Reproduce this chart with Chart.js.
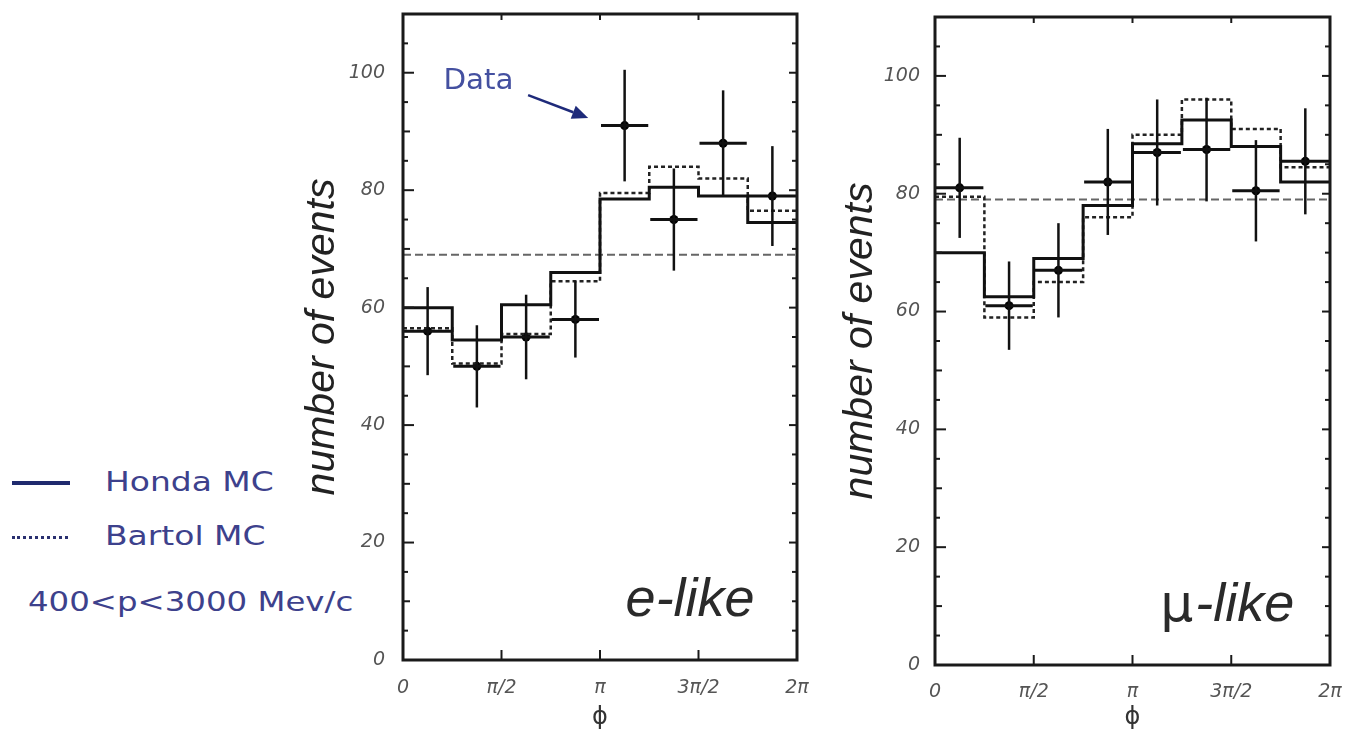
<!DOCTYPE html>
<html>
<head>
<meta charset="utf-8">
<script src="https://cdn.jsdelivr.net/npm/chart.js@4.4.0/dist/chart.umd.min.js"></script>
<style>
html,body{margin:0;padding:0;background:#fff;width:1355px;height:752px;overflow:hidden;}
body{position:relative;font-family:"DejaVu Sans",sans-serif;}
canvas{position:absolute;top:0;}
#c1{left:290px;}
#c2{left:830px;}
.leg{position:absolute;color:#3d418c;font-size:27px;line-height:30px;transform-origin:left center;transform:scaleX(1.22);white-space:nowrap;}
.lsolid{position:absolute;left:12px;top:481px;width:58px;height:4px;background:#1f2a6e;}
.ldot{position:absolute;left:12px;top:536px;width:56px;height:0;border-top:3px dotted #2a3070;}
</style>
</head>
<body>
<div class="lsolid"></div>
<div class="leg" style="left:105px;top:467px;">Honda MC</div>
<div class="ldot"></div>
<div class="leg" style="left:105px;top:521px;">Bartol MC</div>
<div class="leg" style="left:28px;top:587px;transform:scaleX(1.2);">400&lt;p&lt;3000 Mev/c</div>
<canvas id="c1" width="520" height="752"></canvas>
<canvas id="c2" width="525" height="752"></canvas>
<script>
// ---- data (x in units of pi) ----
const phiBinEdges = [0, 0.25, 0.5, 0.75, 1, 1.25, 1.5, 1.75, 2];
const xTickValues = [0, 0.5, 1, 1.5, 2];
const xTickLabels = ['0', 'π/2', 'π', '3π/2', '2π'];
const yTickValues = [0, 20, 40, 60, 80, 100];

const eHonda  = [60, 54.5, 60.5, 66, 78.5, 80.5, 79, 74.5];
const eBartol = [56.5, 50.5, 55.5, 64.5, 79.5, 84, 82, 76.5];
const eData   = [56, 50, 55, 58, 91, 75, 88, 79];
const eErr    = [7.5, 7, 7.2, 6.5, 9.5, 8.7, 9, 8.5];
const eFlat   = 69;

const muHonda  = [70, 62.5, 69, 78, 88.5, 92.5, 88, 82];
const muBartol = [79.5, 59, 65, 76, 90, 96, 91, 84.5];
const muData   = [81, 61, 67, 82, 87, 87.5, 80.5, 85.5];
const muErr    = [8.5, 7.5, 8, 9, 9, 8.8, 8.6, 9];
const muFlat   = 79;

Chart.defaults.animation = false;

function histPoints(vals) {
  const pts = vals.map((v, i) => ({x: phiBinEdges[i], y: v}));
  pts.push({x: phiBinEdges[phiBinEdges.length - 1], y: vals[vals.length - 1]});
  return pts;
}
function centerPoints(vals) {
  return vals.map((v, i) => ({x: (phiBinEdges[i] + phiBinEdges[i + 1]) / 2, y: v}));
}
function noPad(s) { s.paddingLeft = 0; s.paddingRight = 0; s.paddingTop = 0; s.paddingBottom = 0; }

const decor = {
  id: 'decor',
  afterDatasetsDraw(chart) {
    const o = chart.options.plugins.decor;
    const ctx = chart.ctx;
    const xs = chart.scales.x, ys = chart.scales.y;
    const a = chart.chartArea;
    ctx.save();
    // error bars
    ctx.strokeStyle = '#111';
    o.data.forEach((v, i) => {
      const x0 = xs.getPixelForValue(phiBinEdges[i]);
      const x1 = xs.getPixelForValue(phiBinEdges[i + 1]);
      const xc = (x0 + x1) / 2;
      const y = ys.getPixelForValue(v);
      ctx.lineWidth = 3;
      ctx.beginPath(); ctx.moveTo(x0 + 1, y); ctx.lineTo(x1 - 1, y); ctx.stroke();
      ctx.lineWidth = 2.5;
      ctx.beginPath();
      ctx.moveTo(xc, ys.getPixelForValue(v + o.err[i]));
      ctx.lineTo(xc, ys.getPixelForValue(v - o.err[i]));
      ctx.stroke();
    });
    // frame
    ctx.strokeStyle = '#1a1a1a';
    ctx.lineWidth = 3;
    ctx.strokeRect(a.left, a.top, a.right - a.left, a.bottom - a.top);
    // inward ticks
    ctx.lineWidth = 2;
    for (let v = 0; v <= 110; v += 5) {
      const y = ys.getPixelForValue(v);
      const l = v % 20 === 0 ? 11 : (v % 10 === 0 ? 7 : 5);
      ctx.beginPath(); ctx.moveTo(a.left, y); ctx.lineTo(a.left + l, y); ctx.stroke();
      const r = v % 20 === 0 ? 8 : 5;
      ctx.beginPath(); ctx.moveTo(a.right, y); ctx.lineTo(a.right - r, y); ctx.stroke();
    }
    xTickValues.forEach(v => {
      const x = xs.getPixelForValue(v);
      ctx.beginPath(); ctx.moveTo(x, a.bottom); ctx.lineTo(x, a.bottom - 10); ctx.stroke();
      ctx.beginPath(); ctx.moveTo(x, a.top); ctx.lineTo(x, a.top + 6); ctx.stroke();
    });
    // labels
    ctx.fillStyle = '#2a2a2a';
    ctx.textBaseline = 'alphabetic';
    ctx.textAlign = 'left';
    const lx = xs.getPixelForValue(o.labelX), ly = ys.getPixelForValue(o.labelY);
    if (o.mu) {
      ctx.font = '52px "DejaVu Sans"';
      ctx.fillText('μ', lx, ly);
      const w = ctx.measureText('μ').width;
      ctx.font = 'italic 54px "Liberation Sans"';
      ctx.fillText('-like', lx + w + 2, ly);
    } else {
      ctx.font = 'italic 54px "Liberation Sans"';
      ctx.fillText(o.label, lx, ly);
    }
    if (o.dataNote) {
      const n = o.dataNote;
      ctx.fillStyle = '#4450a0';
      ctx.font = '28px "DejaVu Sans"';
      ctx.textBaseline = 'middle';
      ctx.save();
      const tx = xs.getPixelForValue(n.tx), ty = ys.getPixelForValue(n.ty);
      ctx.translate(tx, ty); ctx.scale(1.05, 1);
      ctx.fillText(n.text, 0, 0);
      ctx.restore();
      const ax0 = xs.getPixelForValue(n.ax0), ay0 = ys.getPixelForValue(n.ay0);
      const ax1 = xs.getPixelForValue(n.ax1), ay1 = ys.getPixelForValue(n.ay1);
      ctx.strokeStyle = '#1e2a7a'; ctx.fillStyle = '#1e2a7a';
      ctx.lineWidth = 2.5;
      const ang = Math.atan2(ay1 - ay0, ax1 - ax0);
      const bx = ax1 - 16 * Math.cos(ang), by = ay1 - 16 * Math.sin(ang);
      ctx.beginPath(); ctx.moveTo(ax0, ay0); ctx.lineTo(bx, by); ctx.stroke();
      ctx.beginPath();
      ctx.moveTo(ax1, ay1);
      ctx.lineTo(bx + 7 * Math.sin(ang), by - 7 * Math.cos(ang));
      ctx.lineTo(bx - 7 * Math.sin(ang), by + 7 * Math.cos(ang));
      ctx.closePath(); ctx.fill();
    }
    ctx.restore();
  }
};

function makeChart(id, honda, bartol, data, err, flat, opts) {
  return new Chart(document.getElementById(id), {
    type: 'line',
    data: {
      datasets: [
        {label: 'Honda MC', data: histPoints(honda), stepped: true, borderColor: '#111', borderWidth: 3, pointRadius: 0, fill: false},
        {label: 'Bartol MC', data: histPoints(bartol), stepped: true, borderColor: '#222', borderWidth: 2.5, borderDash: [4, 3], pointRadius: 0, fill: false},
        {label: 'flat', data: [{x: 0, y: flat}, {x: 2, y: flat}], borderColor: '#666', borderWidth: 2, borderDash: [8, 4], pointRadius: 0, fill: false},
        {label: 'Data', data: centerPoints(data), showLine: false, pointRadius: 4.5, pointBackgroundColor: '#000', pointBorderColor: '#000', borderWidth: 0}
      ]
    },
    options: {
      responsive: false,
      devicePixelRatio: 1,
      animation: false,
      layout: {padding: opts.padding},
      plugins: {
        legend: {display: false},
        tooltip: {enabled: false},
        decor: {data: data, err: err, label: opts.label, mu: opts.mu, labelX: opts.labelX, labelY: 7.5, dataNote: opts.dataNote}
      },
      scales: {
        x: {
          type: 'linear', min: 0, max: 2,
          afterFit: s => { s.height = opts.xHeight; noPad(s); },
          afterBuildTicks: s => { s.ticks = xTickValues.map(v => ({value: v})); },
          ticks: {
            callback: (v) => xTickLabels[xTickValues.indexOf(v)],
            font: {family: 'DejaVu Sans', style: 'italic', size: 19},
            color: '#555', padding: opts.xPad, maxRotation: 0, autoSkip: false
          },
          grid: {display: false, drawTicks: false},
          border: {display: false},
          title: {display: true, text: 'ϕ', font: {family: 'DejaVu Sans', size: 24}, color: '#333', padding: {top: 0, bottom: 20}}
        },
        y: {
          type: 'linear', min: 0, max: 110,
          afterFit: s => { s.width = opts.yWidth; noPad(s); },
          afterBuildTicks: s => { s.ticks = yTickValues.map(v => ({value: v})); },
          ticks: {
            font: {family: 'DejaVu Sans', style: 'italic', size: 19},
            color: '#555', padding: opts.yPad
          },
          grid: {display: false, drawTicks: false},
          border: {display: false},
          title: {display: true, text: 'number of events', font: {family: 'Liberation Sans', style: 'italic', size: 41}, color: '#222', padding: {top: opts.titlePad, bottom: 0}}
        }
      }
    },
    plugins: [decor]
  });
}

makeChart('c1', eHonda, eBartol, eData, eErr, eFlat, {
  padding: {left: 0, top: 14, right: 13, bottom: 0},
  xHeight: 92, yWidth: 113, yPad: 18, xPad: 17, titlePad: 8,
  label: 'e-like', mu: false, labelX: 1.13,
  dataNote: {text: 'Data', tx: 0.205, ty: 98.5, ax0: 0.635, ay0: 96.2, ax1: 0.94, ay1: 92.3}
});
makeChart('c2', muHonda, muBartol, muData, muErr, muFlat, {
  padding: {left: 0, top: 17, right: 25, bottom: 0},
  xHeight: 87, yWidth: 105, yPad: 15, xPad: 16, titlePad: 6,
  label: 'μ-like', mu: true, labelX: 1.14,
  dataNote: null
});
</script>
</body>
</html>
